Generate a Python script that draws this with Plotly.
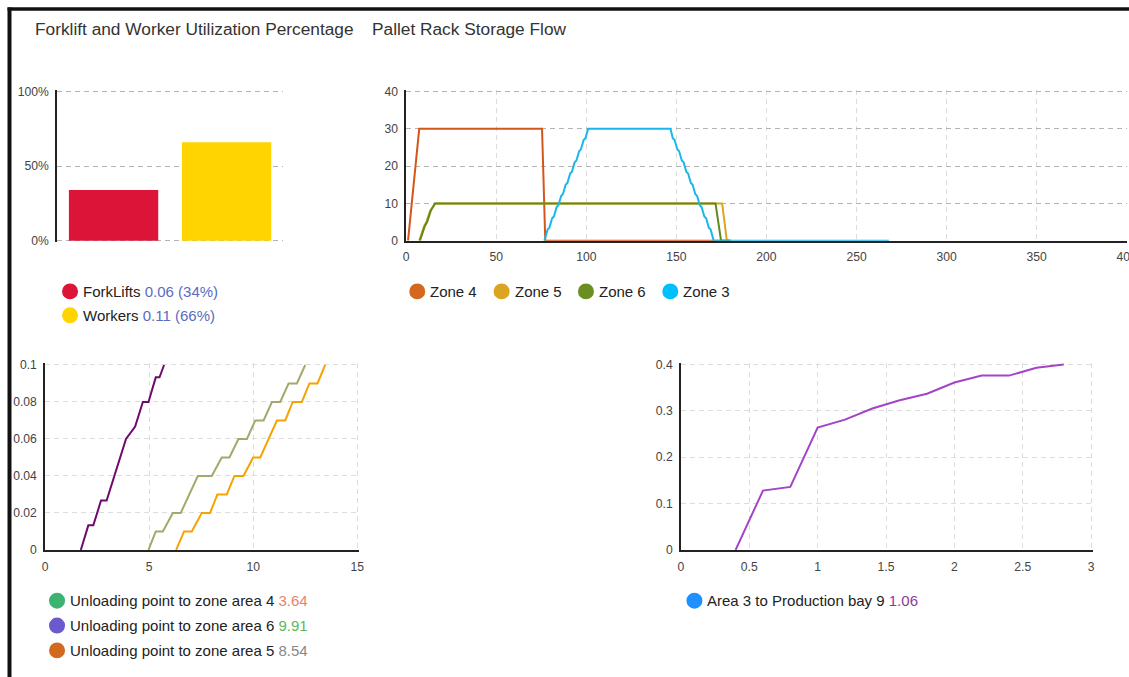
import plotly.graph_objects as go

# ---------------- data ----------------
util_categories = ["ForkLifts", "Workers"]
util_values = [0.34, 0.66]
util_raw = ["0.06", "0.11"]
util_colors = ["#dc1438", "#ffd400"]

zone_names = ["Zone 4", "Zone 5", "Zone 6", "Zone 3"]
zone_line_colors = ["#d4561a", "#dba520", "#5f8a1c", "#1ab8e8"]
zone_legend_colors = ["#d2691e", "#daa520", "#6b8e23", "#00bfff"]

zone4_x = [1, 7.2, 75.4, 76.6, 77.2, 180]
zone4_y = [0, 30, 30, 4, 0, 0]
zone5_x = [7.2, 10, 11.2, 13.2, 16, 175.4, 178, 180]
zone5_y = [0, 4, 5, 8, 10, 10, 0, 0]
zone6_x = [7.6, 10.4, 11.6, 13.6, 16, 171.7, 174.8, 180]
zone6_y = [0, 4, 5, 8, 10, 10, 0, 0]
zone3_x = [76.7, 78.5, 79.5, 81, 82, 83.5, 84.5, 86, 87, 88.5, 89.5, 91, 92,
           93.5, 94.5, 96, 97, 98.5, 99.5, 101, 146.7, 148, 149, 150.5, 151.5,
           153, 154, 155.5, 156.5, 158, 159, 160.5, 161.5, 163, 164, 165.5,
           166.5, 168, 169, 170.7, 268]
zone3_y = [0, 3, 3.5, 6, 6.5, 9, 9.5, 12, 12.5, 15, 15.5, 18, 18.5,
           21, 21.5, 24, 24.5, 27, 27.5, 30, 30, 27.5, 27, 24.5, 24,
           21.5, 21, 18.5, 18, 15.5, 15, 12.5, 12, 9.5, 9, 6.5,
           6, 3.5, 3, 0, 0]

route_names = ["Unloading point to zone area 4", "Unloading point to zone area 6",
               "Unloading point to zone area 5"]
route_values = ["3.64", "9.91", "8.54"]
route_value_colors = ["#e8826a", "#5cb85c", "#888888"]
route_legend_colors = ["#3cb371", "#6a5acd", "#d2691e"]

purple_x = [1.72, 2.08, 2.32, 2.69, 2.96, 3.89, 4.33, 4.70, 4.97, 5.32, 5.50, 5.72]
purple_y = [0, 0.0133, 0.0133, 0.0267, 0.0267, 0.06, 0.0667, 0.08, 0.08, 0.0933, 0.0933, 0.1]
olive_x = [4.97, 5.32, 5.66, 6.14, 6.52, 7.34, 8.01, 8.49, 8.86, 9.29, 9.70, 10.1,
           10.5, 10.9, 11.3, 11.7, 12.1, 12.5]
olive_y = [0, 0.01, 0.01, 0.02, 0.02, 0.04, 0.04, 0.05, 0.05, 0.06, 0.06, 0.07,
           0.07, 0.08, 0.08, 0.09, 0.09, 0.1]
orange_x = [6.3, 6.68, 7.05, 7.53, 7.93, 8.28, 8.73, 9.1, 9.53, 10.0, 10.34, 11.14,
            11.54, 11.9, 12.34, 12.7, 13.09, 13.46]
orange_y = [0, 0.01, 0.01, 0.02, 0.02, 0.03, 0.03, 0.04, 0.04, 0.05, 0.05, 0.07,
            0.07, 0.08, 0.08, 0.09, 0.09, 0.1]
route_line_colors = ["#6e0a6e", "#a4a86a", "#f5a300"]

area_name = "Area 3 to Production bay 9"
area_value = "1.06"
area_x = [0.4, 0.6, 0.8, 1.0, 1.2, 1.4, 1.6, 1.8, 2.0, 2.2, 2.4, 2.6, 2.8]
area_y = [0, 0.128, 0.136, 0.264, 0.281, 0.305, 0.323, 0.337, 0.361, 0.376, 0.376, 0.393, 0.4]

# ---------------- layout helpers ----------------
W, H = 1140, 686          # page size of the figure
S, OFF = 0.988, 3.0       # observed page -> photo mapping, compensated below

def page(p):
    return (p - OFF) / S

def fx(p):
    return page(p) / W

def fy(p):
    return 1 - page(p) / H

def fs(size):
    return round(size / S, 2)

FONT = "Liberation Sans, Arial, sans-serif"
tickfont = dict(family=FONT, size=fs(12), color="#444")
DASH = "5px,4px"

fig = go.Figure()

fig.add_trace(go.Bar(x=util_categories, y=util_values, marker=dict(color=util_colors, line=dict(width=0)),
                     width=0.79, xaxis="x", yaxis="y", showlegend=False, hoverinfo="skip"))

for xs, ys, c in zip([zone4_x, zone5_x, zone6_x, zone3_x], [zone4_y, zone5_y, zone6_y, zone3_y],
                     zone_line_colors):
    fig.add_trace(go.Scatter(x=xs, y=ys, mode="lines", line=dict(color=c, width=2),
                             xaxis="x2", yaxis="y2", showlegend=False))

for xs, ys, c in zip([purple_x, olive_x, orange_x], [purple_y, olive_y, orange_y], route_line_colors):
    fig.add_trace(go.Scatter(x=xs, y=ys, mode="lines", line=dict(color=c, width=2),
                             xaxis="x3", yaxis="y3", showlegend=False))

fig.add_trace(go.Scatter(x=area_x, y=area_y, mode="lines", line=dict(color="#a444c8", width=2),
                         xaxis="x4", yaxis="y4", showlegend=False))

def axis_common(lw=1.5):
    return dict(zeroline=False, showline=True, linecolor="#222", linewidth=lw,
                ticks="outside", ticklen=4, tickcolor="rgba(0,0,0,0)", tickfont=tickfont,
                fixedrange=True)

light = "#dcdcdc"
dark = "#b4b4b4"

fig.update_layout(
    width=W, height=H, autosize=False,
    margin=dict(l=0, r=0, t=0, b=0),
    paper_bgcolor="white", plot_bgcolor="white",
    font=dict(family=FONT),
    xaxis=dict(domain=[fx(57), fx(283)], anchor="y", range=[-0.5, 1.5], showticklabels=False,
               showgrid=False, zeroline=False, showline=False, fixedrange=True),
    yaxis=dict(domain=[fy(241.8), fy(88.2)], anchor="x", range=[-0.012, 1.012], tickvals=[0, 0.5, 1],
               ticktext=["0%", "50%", "100%"], showgrid=True, gridcolor=dark, griddash=DASH,
               gridwidth=1, **axis_common()),
    xaxis2=dict(domain=[fx(406), fx(1126)], anchor="y2", range=[0, 400], dtick=50,
                ticklabeloverflow="allow",
                showgrid=True, gridcolor=light, griddash=DASH, **axis_common(2)),
    yaxis2=dict(domain=[fy(240), fy(88.5)], anchor="x2", range=[0, 40.4], dtick=10,
                showgrid=True, gridcolor=dark, griddash=DASH, **axis_common()),
    xaxis3=dict(domain=[fx(45), fx(358.7)], anchor="y3", range=[0, 15.08], dtick=5,
                showgrid=True, gridcolor=light, griddash=DASH, **axis_common(2)),
    yaxis3=dict(domain=[fy(551), fy(363.5)], anchor="x3", range=[0, 0.1008], dtick=0.02,
                showgrid=True, gridcolor=light, griddash=DASH, **axis_common()),
    xaxis4=dict(domain=[fx(680.5), fx(1092.1)], anchor="y4", range=[0, 3.012], dtick=0.5,
                showgrid=True, gridcolor=light, griddash=DASH, **axis_common(2)),
    yaxis4=dict(domain=[fy(551), fy(363)], anchor="x4", range=[0, 0.4032], dtick=0.1,
                showgrid=True, gridcolor=light, griddash=DASH, **axis_common()),
)

shapes = []
annotations = []

# frame
shapes.append(dict(type="line", xref="paper", yref="paper", x0=fx(7.5), x1=1.0, y0=fy(7), y1=fy(7),
                   line=dict(color="#111", width=3.5)))
shapes.append(dict(type="line", xref="paper", yref="paper", x0=fx(9.5), x1=fx(9.5), y0=fy(5.5), y1=0,
                   line=dict(color="#111", width=4)))

# titles
annotations.append(dict(text="Forklift and Worker Utilization Percentage", xref="paper", yref="paper",
                        x=fx(33), y=fy(27), xanchor="left", yanchor="middle", showarrow=False,
                        font=dict(family=FONT, size=17.3, color="#333")))
annotations.append(dict(text="Pallet Rack Storage Flow", xref="paper", yref="paper",
                        x=fx(370), y=fy(27), xanchor="left", yanchor="middle", showarrow=False,
                        font=dict(family=FONT, size=17.3, color="#333")))

def legend_item(cx, cy, color, text, r=8):
    shapes.append(dict(type="circle", xref="paper", yref="paper",
                       x0=fx(cx - r), x1=fx(cx + r), y0=fy(cy + r), y1=fy(cy - r),
                       fillcolor=color, line=dict(width=0)))
    annotations.append(dict(text=text, xref="paper", yref="paper", x=fx(cx + 11), y=fy(cy),
                            xanchor="left", yanchor="middle", showarrow=False,
                            font=dict(family=FONT, size=15, color="#222")))

for i, (name, raw, val, col) in enumerate(zip(util_categories, util_raw, util_values, util_colors)):
    legend_item(70, 291 + 24 * i, col,
                f"{name} <span style='color:#5b6bbf'>{raw} ({round(val*100)}%)</span>")

for i, (name, col) in enumerate(zip(zone_names, zone_legend_colors)):
    legend_item(417 + 84.3 * i, 291, col, name)

for i, (name, val, vc, col) in enumerate(zip(route_names, route_values, route_value_colors,
                                             route_legend_colors)):
    legend_item(57, 602 + 25 * i, col, f"{name} <span style='color:{vc}'>{val}</span>")

legend_item(694, 602, "#1e90ff", f"{area_name} <span style='color:#8b3a9b'>{area_value}</span>")

fig.update_layout(shapes=shapes, annotations=annotations)

fig.write_html(
    "out.html",
    config={"displayModeBar": False, "responsive": False},
    post_script=(
        "document.documentElement.style.margin='0';"
        "document.documentElement.style.padding='0';"
        "document.documentElement.style.overflow='hidden';"
        "document.body.style.margin='0';"
        "document.body.style.padding='0';"
        "document.body.style.overflow='hidden';"
    ),
)
